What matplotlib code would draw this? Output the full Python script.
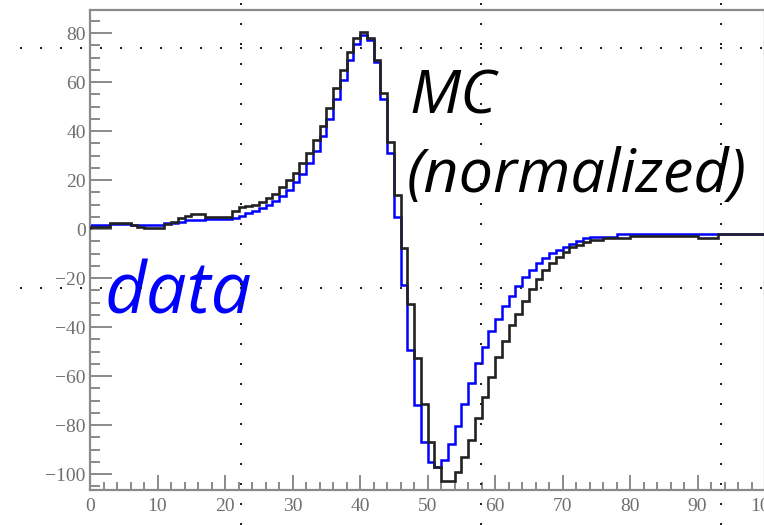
import numpy as np
import matplotlib
matplotlib.use("Agg")
import matplotlib.pyplot as plt
from matplotlib.lines import Line2D
from matplotlib.ticker import MultipleLocator

# bin edges 0..100, one unit wide
bin_edges = np.arange(0, 101)

mc_values = [
    1.0, 1.0, 1.0, 2.3, 2.3, 2.3, 1.5, 1.0, 0.3, 0.3,
    0.3, 2.0, 3.0, 4.5, 5.5, 6.0, 6.0, 4.8, 4.8, 4.8,
    4.8, 7.5, 9.0, 9.3, 10.0, 11.0, 12.5, 14.5, 17.0, 20.0,
    23.0, 26.8, 31.0, 36.3, 42.0, 49.3, 57.4, 64.9, 72.4, 77.8,
    80.5, 78.0, 69.0, 55.4, 35.6, 13.9, -7.8, -30.6, -52.6, -71.2,
    -86.8, -97.0, -102.9, -102.9, -99.0, -92.9, -86.1, -77.3, -68.4, -60.3,
    -52.1, -45.5, -39.0, -34.5, -29.5, -24.5, -20.5, -16.7, -14.0, -11.3,
    -9.3, -7.5, -6.5, -5.2, -4.5, -4.5, -3.8, -3.8, -3.8, -3.8,
    -2.8, -2.8, -2.8, -2.8, -2.8, -2.8, -2.8, -2.8, -2.8, -2.8,
    -3.8, -3.8, -3.8, -2.0, -2.0, -2.0, -2.0, -2.0, -2.0, -2.0,
]

data_values = [
    1.8, 1.8, 1.8, 2.0, 2.0, 2.0, 1.8, 1.8, 1.5, 1.5,
    1.5, 2.5, 2.5, 3.0, 3.5, 3.5, 3.5, 4.0, 4.0, 4.0,
    4.0, 4.5, 5.5, 6.5, 7.5, 8.5, 10.0, 11.5, 13.5, 16.0,
    19.0, 22.5, 27.0, 32.0, 38.0, 45.0, 53.0, 61.0, 69.0, 75.5,
    79.0, 77.0, 68.0, 53.0, 31.0, 5.0, -23.0, -49.4, -71.8, -86.8,
    -95.0, -97.0, -94.3, -87.8, -80.3, -71.5, -63.0, -54.8, -48.3, -41.8,
    -36.7, -31.3, -27.2, -23.2, -19.7, -16.7, -14.0, -12.0, -9.9, -8.6,
    -7.2, -6.1, -4.8, -3.8, -3.1, -3.1, -3.1, -3.1, -2.2, -2.2,
    -2.2, -2.2, -2.2, -2.2, -2.2, -2.2, -2.2, -2.2, -2.2, -2.2,
    -2.2, -2.2, -2.2, -2.2, -2.2, -2.2, -2.2, -2.2, -2.2, -2.2,
]

x_major, x_minor = 10, 2
y_major, y_minor = 20, 5

W, H = 764, 525
fig = plt.figure(figsize=(W / 100, H / 100), dpi=100)
ax = fig.add_axes([90 / W, 35 / H, 675 / W, 480 / H])

ax.stairs(data_values, bin_edges, color="#0000ff", lw=1.8, zorder=2)
ax.stairs(mc_values, bin_edges, color="#222222", lw=1.9, zorder=3)

ax.set_xlim(0, 100)
ax.set_ylim(-106.5, 89.4)

ax.xaxis.set_major_locator(MultipleLocator(x_major))
ax.xaxis.set_minor_locator(MultipleLocator(x_minor))
ax.yaxis.set_major_locator(MultipleLocator(y_major))
ax.yaxis.set_minor_locator(MultipleLocator(y_minor))

grey = "#8a8a8a"
for s in ax.spines.values():
    s.set_color(grey); s.set_linewidth(1.6)
ax.tick_params(axis="both", which="both", direction="in", color=grey,
               width=1.4, labelcolor="#6f6f6f", labelsize=14)
ax.tick_params(axis="y", which="major", length=16, pad=3)
ax.tick_params(axis="y", which="minor", length=7)
ax.tick_params(axis="x", which="major", length=11, pad=6)
ax.tick_params(axis="x", which="minor", length=6)
for lab in ax.get_xticklabels() + ax.get_yticklabels():
    lab.set_fontfamily("Liberation Serif")

txt_font = ["Open Sans", "DejaVu Sans"]
ax.text(47.3, 47.0, "MC", fontsize=44, fontstyle="italic",
        family=txt_font, color="black", va="baseline", zorder=4)
ax.text(46.9, 15.1, "(normalized)", fontsize=44, fontstyle="italic",
        family=txt_font, color="black", va="baseline", zorder=4)
ax.text(2.2, -34.3, "data", fontsize=52, fontstyle="italic",
        family=txt_font, color="#0000ff", va="baseline", zorder=4)

# dotted slide guides over the whole picture
dot = dict(color="#222222", lw=1.44, linestyle=(0, (1, 9)), transform=fig.transFigure, zorder=10)
for yp in (48, 288):
    fig.add_artist(Line2D([20 / W, 1], [1 - yp / H, 1 - yp / H], **dot))
for xp in (241, 481, 721):
    fig.add_artist(Line2D([xp / W, xp / W], [0, 1], **dot))

fig.savefig("out.png", dpi=100)
